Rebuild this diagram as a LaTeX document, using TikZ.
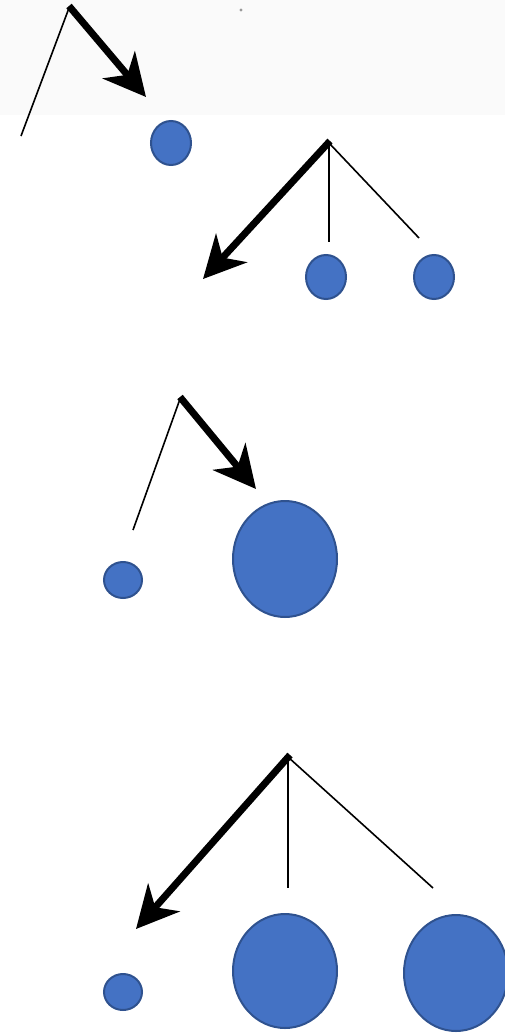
\documentclass[tikz,border=0pt]{standalone}
\usetikzlibrary{arrows.meta,shapes.geometric}
\definecolor{bfill}{HTML}{4472C4}
\definecolor{bdraw}{HTML}{2F528F}
\begin{document}
\begin{tikzpicture}[x=1pt,y=-1pt,
  ball/.style={ellipse,draw=bdraw,fill=bfill,line width=2pt,inner sep=0pt},
  bigarrow/.style={line width=7pt,-{Stealth[length=42pt,width=42pt,inset=13pt]}},
  thinline/.style={line width=1.6pt}]
\useasboundingbox (0,0) rectangle (505,1033);
\fill[black!2] (0,0) rectangle (505,115);
\fill[black!40] (241,10) circle (1.6);
% panel 1
\coordinate (p1top) at (69,6);
\coordinate (p1left) at (21,136);
\coordinate (p1tip) at (146,97);
\draw[thinline] (p1left) -- (69,8);
\draw[bigarrow] (p1top) -- (p1tip);
\node[ball,minimum width=40pt,minimum height=44pt] (b1) at (171,143) {};
% panel 2
\coordinate (p2top) at (330,141);
\coordinate (p2tip) at (203,279);
\coordinate (p2mid) at (329,242);
\coordinate (p2right) at (419,238);
\draw[thinline] (329,143) -- (p2mid);
\draw[thinline] (329,143) -- (p2right);
\draw[bigarrow] (p2top) -- (p2tip);
\node[ball,minimum width=40pt,minimum height=44pt] (b2) at (326,277) {};
\node[ball,minimum width=40pt,minimum height=44pt] (b3) at (434,277) {};
% panel 3
\coordinate (p3top) at (180,397);
\coordinate (p3left) at (133,530);
\coordinate (p3tip) at (256,489);
\draw[thinline] (p3left) -- (180,399);
\draw[bigarrow] (p3top) -- (p3tip);
\node[ball,minimum width=38pt,minimum height=36pt] (b4) at (123,580) {};
\node[ball,minimum width=104pt,minimum height=116pt] (b5) at (285,559) {};
% panel 4
\coordinate (p4top) at (290,755);
\coordinate (p4tip) at (136,929);
\coordinate (p4mid) at (288,888);
\coordinate (p4right) at (433,888);
\draw[thinline] (288,757) -- (p4mid);
\draw[thinline] (288,757) -- (p4right);
\draw[bigarrow] (p4top) -- (p4tip);
\node[ball,minimum width=38pt,minimum height=36pt] (b6) at (123,992) {};
\node[ball,minimum width=104pt,minimum height=114pt] (b7) at (285,971) {};
\node[ball,minimum width=104pt,minimum height=116pt] (b8) at (456,973) {};
\end{tikzpicture}
\end{document}
